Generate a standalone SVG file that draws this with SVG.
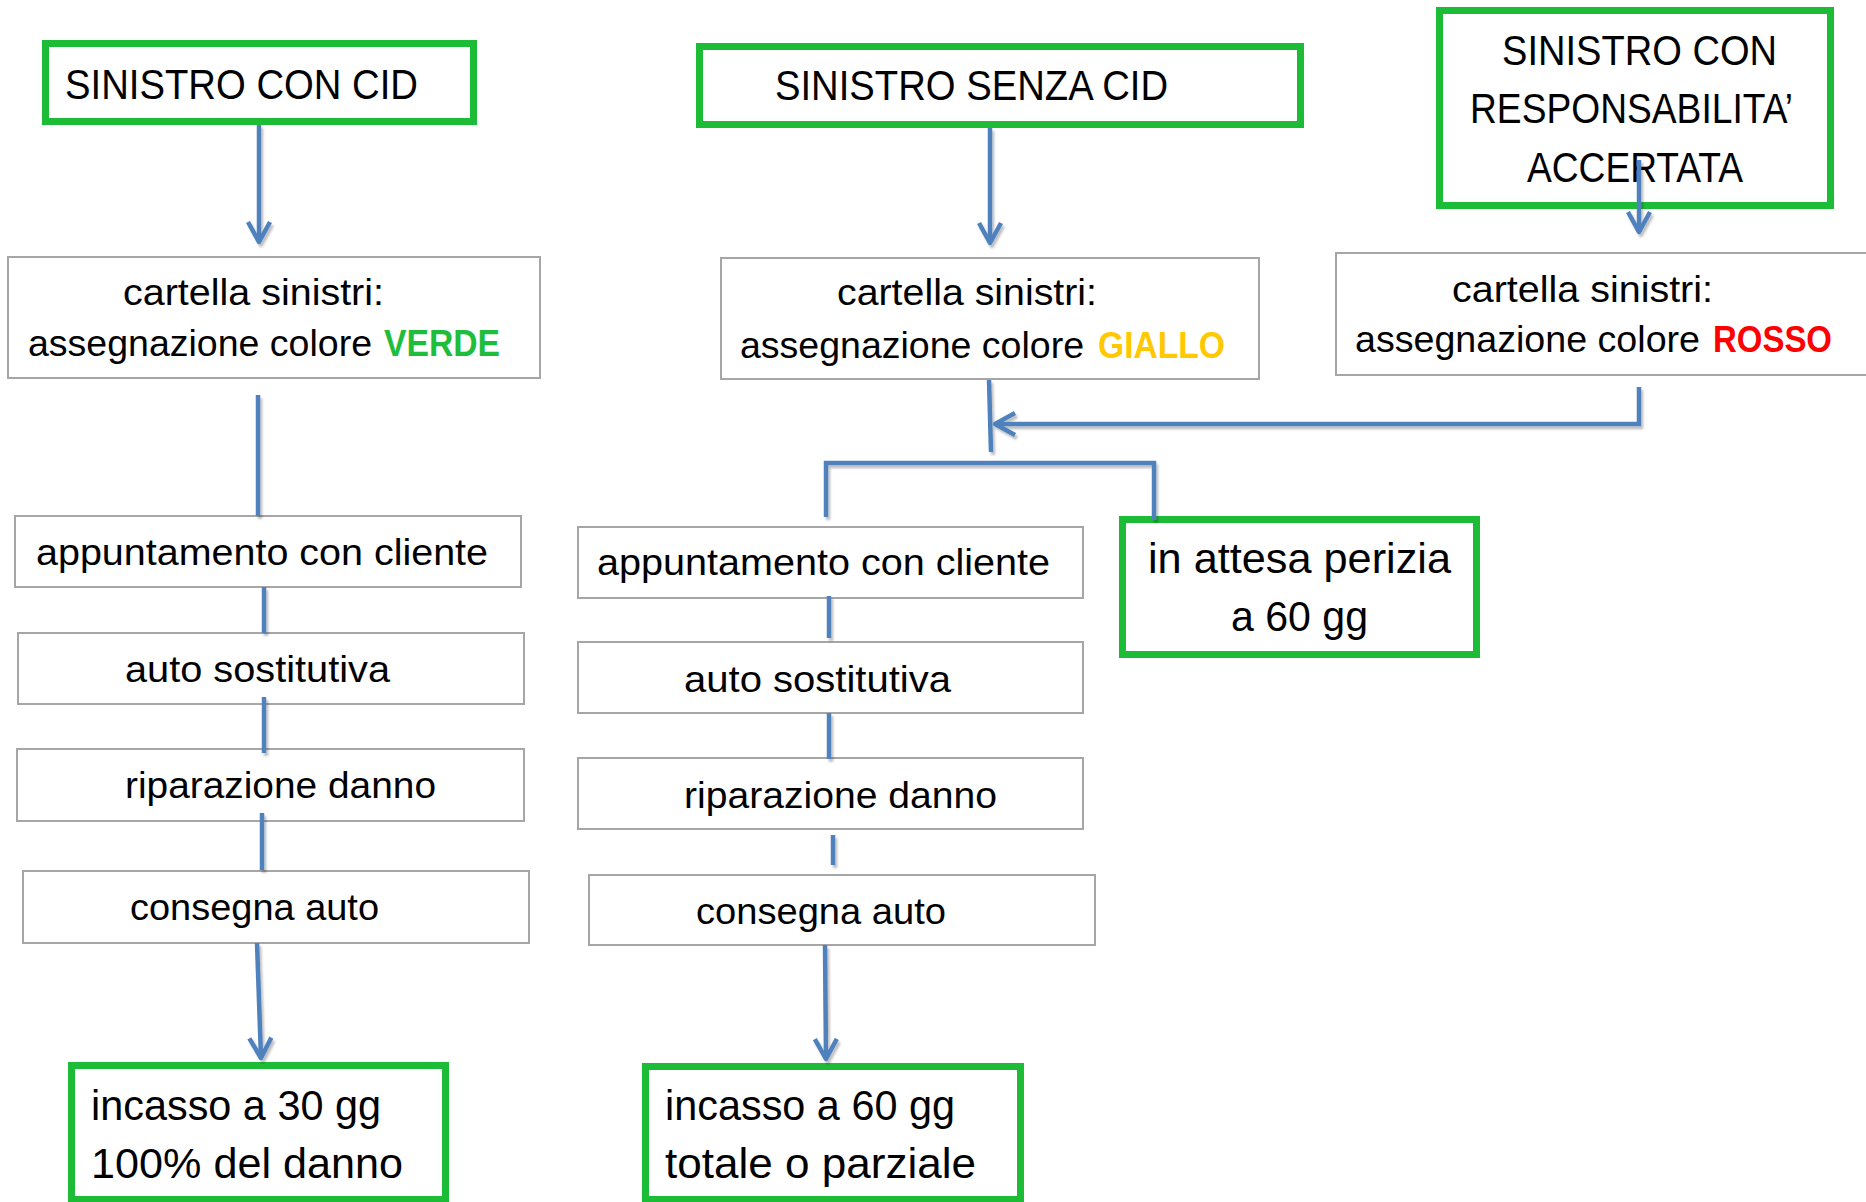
<svg xmlns="http://www.w3.org/2000/svg" width="1866" height="1202" viewBox="0 0 1866 1202">
<defs>
<style>
text{font-family:"Liberation Sans",Arial,sans-serif;fill:#000}
.t{font-size:42px}
.b{font-size:36px}
.g{font-size:42px}
.box{fill:#fff;stroke:#a6a6a6;stroke-width:2}
.gbox{fill:#fff;stroke:#1dbc37;stroke-width:7}
.c{fill:none;stroke:#4f81bd;stroke-width:4.5}
.verde{fill:#1ebe3c;font-weight:bold}
.giallo{fill:#ffc800;font-weight:bold}
.rosso{fill:#ff0000;font-weight:bold}
</style>
<marker id="ah" markerUnits="userSpaceOnUse" markerWidth="40" markerHeight="40" refX="0" refY="0" orient="auto" overflow="visible">
<path d="M-20,-11 L0,0 L-20,11" fill="none" stroke="#4f81bd" stroke-width="4.5" stroke-linejoin="round"/>
</marker>
<filter id="sh" x="-20%" y="-20%" width="140%" height="140%">
<feDropShadow dx="2" dy="3" stdDeviation="1" flood-color="#000" flood-opacity="0.25"/>
</filter>
</defs>

<g id="n1"><rect class="gbox" x="45.5" y="43.5" width="428" height="78"/><text class="t" x="65" y="99" textLength="353" lengthAdjust="spacingAndGlyphs">SINISTRO CON CID</text></g>
<g id="n2"><rect class="gbox" x="699.5" y="46.5" width="601" height="78"/><text class="t" x="775" y="100" textLength="393" lengthAdjust="spacingAndGlyphs">SINISTRO SENZA CID</text></g>
<g id="n3"><rect class="gbox" x="1439.5" y="10.5" width="391" height="195"/>
<text class="t" x="1502" y="65" textLength="275" lengthAdjust="spacingAndGlyphs">SINISTRO CON</text>
<text class="t" x="1470" y="123" textLength="323" lengthAdjust="spacingAndGlyphs">RESPONSABILITA’</text>
<text class="t" x="1527" y="182" textLength="216" lengthAdjust="spacingAndGlyphs">ACCERTATA</text></g>

<g id="n4"><rect class="box" x="8" y="257" width="532" height="121"/>
<text class="b" x="123" y="305" textLength="261" lengthAdjust="spacingAndGlyphs">cartella sinistri:</text>
<text class="b" x="28" y="356" textLength="344" lengthAdjust="spacingAndGlyphs">assegnazione colore</text>
<text class="b verde" x="384" y="356" textLength="116" lengthAdjust="spacingAndGlyphs">VERDE</text></g>
<g id="n5"><rect class="box" x="721" y="258" width="538" height="121"/>
<text class="b" x="837" y="305" textLength="260" lengthAdjust="spacingAndGlyphs">cartella sinistri:</text>
<text class="b" x="740" y="358" textLength="344" lengthAdjust="spacingAndGlyphs">assegnazione colore</text>
<text class="b giallo" x="1098" y="358" textLength="127" lengthAdjust="spacingAndGlyphs">GIALLO</text></g>
<g id="n6"><rect class="box" x="1336" y="253" width="540" height="122"/>
<text class="b" x="1452" y="302" textLength="261" lengthAdjust="spacingAndGlyphs">cartella sinistri:</text>
<text class="b" x="1355" y="352" textLength="345" lengthAdjust="spacingAndGlyphs">assegnazione colore</text>
<text class="b rosso" x="1713" y="352" textLength="119" lengthAdjust="spacingAndGlyphs">ROSSO</text></g>

<g id="n7"><rect class="box" x="15" y="516" width="506" height="71"/><text class="b" x="36" y="565" textLength="452" lengthAdjust="spacingAndGlyphs">appuntamento con cliente</text></g>
<g id="n8"><rect class="box" x="18" y="633" width="506" height="71"/><text class="b" x="125" y="682" textLength="265" lengthAdjust="spacingAndGlyphs">auto sostitutiva</text></g>
<g id="n9"><rect class="box" x="17" y="749" width="507" height="72"/><text class="b" x="125" y="798" textLength="311" lengthAdjust="spacingAndGlyphs">riparazione danno</text></g>
<g id="n10"><rect class="box" x="23" y="871" width="506" height="72"/><text class="b" x="130" y="920" textLength="249" lengthAdjust="spacingAndGlyphs">consegna auto</text></g>

<g id="n11"><rect class="box" x="578" y="527" width="505" height="71"/><text class="b" x="597" y="575" textLength="453" lengthAdjust="spacingAndGlyphs">appuntamento con cliente</text></g>
<g id="n12"><rect class="box" x="578" y="642" width="505" height="71"/><text class="b" x="684" y="692" textLength="267" lengthAdjust="spacingAndGlyphs">auto sostitutiva</text></g>
<g id="n13"><rect class="box" x="578" y="758" width="505" height="71"/><text class="b" x="684" y="808" textLength="313" lengthAdjust="spacingAndGlyphs">riparazione danno</text></g>
<g id="n14"><rect class="box" x="589" y="875" width="506" height="70"/><text class="b" x="696" y="924" textLength="250" lengthAdjust="spacingAndGlyphs">consegna auto</text></g>

<g id="n15"><rect class="gbox" x="1122.5" y="519.5" width="354" height="135"/>
<text class="g" x="1148" y="573" textLength="303" lengthAdjust="spacingAndGlyphs">in attesa perizia</text>
<text class="g" x="1231" y="631" textLength="137" lengthAdjust="spacingAndGlyphs">a 60 gg</text></g>
<g id="n16"><rect class="gbox" x="71.5" y="1065.5" width="374" height="134"/>
<text class="g" x="91" y="1120" textLength="290" lengthAdjust="spacingAndGlyphs">incasso a 30 gg</text>
<text class="g" x="91" y="1178" textLength="312" lengthAdjust="spacingAndGlyphs">100% del danno</text></g>
<g id="n17"><rect class="gbox" x="645.5" y="1066.5" width="375" height="133"/>
<text class="g" x="665" y="1120" textLength="290" lengthAdjust="spacingAndGlyphs">incasso a 60 gg</text>
<text class="g" x="665" y="1178" textLength="311" lengthAdjust="spacingAndGlyphs">totale o parziale</text></g>

<g id="connectors" filter="url(#sh)">
<path class="c" d="M259,125 L259,242" marker-end="url(#ah)"/>
<path class="c" d="M258,395 L258,516"/>
<path class="c" d="M264,587 L264,633"/>
<path class="c" d="M264,697 L264,753"/>
<path class="c" d="M262,813 L262,870"/>
<path class="c" d="M257,943 L261,1058" marker-end="url(#ah)"/>

<path class="c" d="M990,128 L990,243" marker-end="url(#ah)"/>
<path class="c" d="M989,380 L991,452"/>
<path class="c" d="M1639,387 L1639,424 L995,424" marker-end="url(#ah)"/>
<path class="c" d="M826,517 L826,463 L1154,463 L1154,520"/>
<path class="c" d="M829,596 L829,638"/>
<path class="c" d="M829,713 L829,759"/>
<path class="c" d="M833,835 L833,865"/>
<path class="c" d="M825,945 L826,1059" marker-end="url(#ah)"/>

<path class="c" d="M1639,160 L1639,232" marker-end="url(#ah)"/>
</g>
</svg>
